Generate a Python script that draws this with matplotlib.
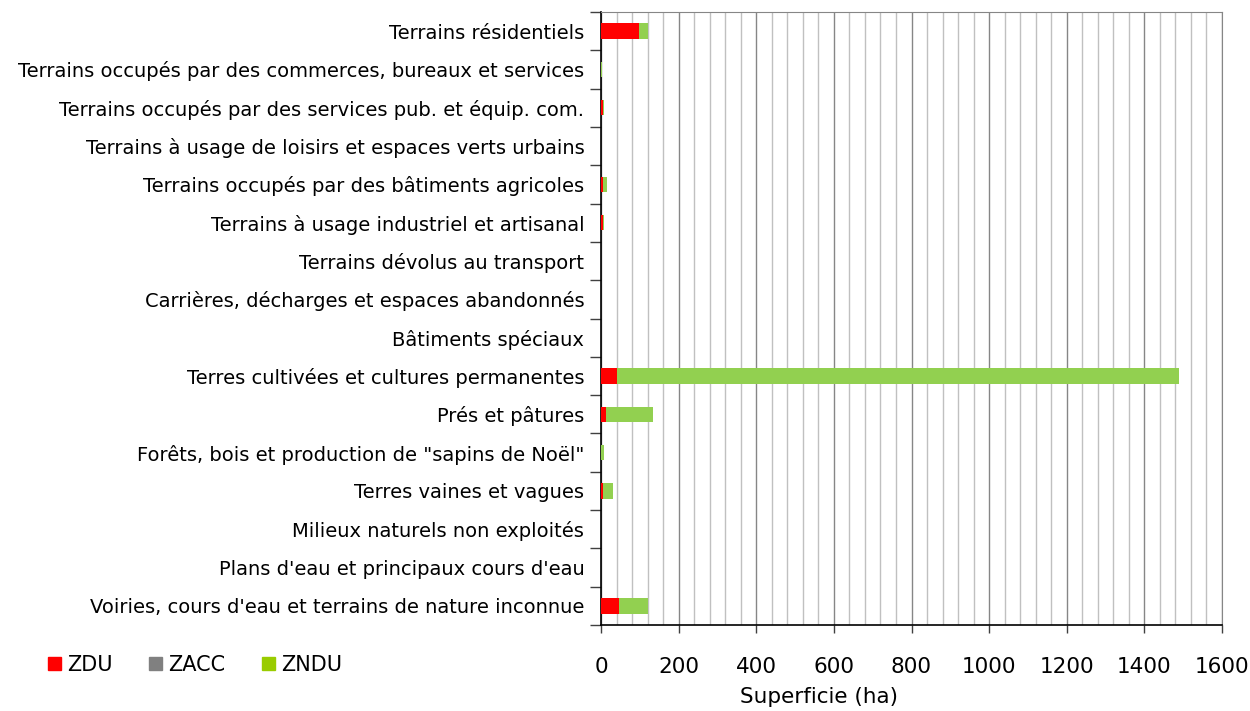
import matplotlib
matplotlib.use("Agg")
import matplotlib.pyplot as plt
import numpy as np
from matplotlib.patches import Patch
from matplotlib.ticker import MultipleLocator

categories = [
    "Terrains résidentiels",
    "Terrains occupés par des commerces, bureaux et services",
    "Terrains occupés par des services pub. et équip. com.",
    "Terrains à usage de loisirs et espaces verts urbains",
    "Terrains occupés par des bâtiments agricoles",
    "Terrains à usage industriel et artisanal",
    "Terrains dévolus au transport",
    "Carrières, décharges et espaces abandonnés",
    "Bâtiments spéciaux",
    "Terres cultivées et cultures permanentes",
    "Prés et pâtures",
    "Forêts, bois et production de \"sapins de Noël\"",
    "Terres vaines et vagues",
    "Milieux naturels non exploités",
    "Plans d'eau et principaux cours d'eau",
    "Voiries, cours d'eau et terrains de nature inconnue",
]
zdu = [98, 0.3, 4, 0, 6, 4, 0, 0, 0, 42, 13, 0.5, 6, 0, 0, 46]
zacc = [0, 0, 0, 0, 0, 0, 0, 0, 0, 0, 0, 0, 0, 0, 0, 0]
zndu = [22, 2.5, 4, 0, 9, 4, 0, 0, 0, 1448, 120, 6, 24, 0, 0, 76]
xticks = [0, 200, 400, 600, 800, 1000, 1200, 1400, 1600]

c_zdu = "#FF0000"
c_zacc = "#808080"
c_zndu = "#92D050"

fig = plt.figure(figsize=(12.5, 7.11), dpi=100)
ax = fig.add_axes([601/1250, 1 - 625/711, (1222-601)/1250, (625-12)/711])

y = np.arange(len(categories))
h = 0.4
a = np.array(zdu); b = np.array(zacc); c = np.array(zndu)
ax.barh(y, a, height=h, color=c_zdu, edgecolor="none", zorder=3)
ax.barh(y, b, left=a, height=h, color=c_zacc, edgecolor="none", zorder=3)
ax.barh(y, c, left=a + b, height=h, color=c_zndu, edgecolor="none", zorder=3)

ax.set_ylim(len(categories) - 0.5, -0.5)
ax.set_xlim(0, 1600)
ax.set_xticks(xticks)
ax.set_xticklabels([str(v) for v in xticks], fontsize=15.5)
ax.xaxis.set_minor_locator(MultipleLocator(40))
ax.grid(which="minor", axis="x", color="#C0C0C0", linewidth=1.0, zorder=0)
ax.grid(which="major", axis="x", color="#868686", linewidth=1.0, zorder=0)
ax.tick_params(axis="x", which="major", length=6, width=1, color="#404040", pad=17)
ax.tick_params(axis="x", which="minor", length=0)

ax.set_yticks(y)
ax.set_yticklabels(categories, fontsize=14)
ax.tick_params(axis="y", which="major", length=0, pad=12)
ax.set_yticks(np.arange(len(categories) + 1) - 0.5, minor=True)
ax.tick_params(axis="y", which="minor", length=8, width=1, color="#404040")

for s in ["left", "bottom"]:
    ax.spines[s].set_color("black")
    ax.spines[s].set_linewidth(1.2)
ax.spines["top"].set_color("#868686")
ax.spines["right"].set_color("#868686")

fig.text(819/1250, 1 - 697/711, "Superficie (ha)", ha="center", va="center", fontsize=15.5)

handles = [Patch(color="#FF0000", label="ZDU"),
           Patch(color="#808080", label="ZACC"),
           Patch(color="#99CC00", label="ZNDU")]
fig.legend(handles=handles, loc="center left", bbox_to_anchor=(29/1250, 1 - 665/711),
           ncol=3, frameon=False, fontsize=15, handlelength=0.62, handleheight=0.62,
           handletextpad=0.3, columnspacing=1.75)

fig.savefig("out.png", dpi=100)
